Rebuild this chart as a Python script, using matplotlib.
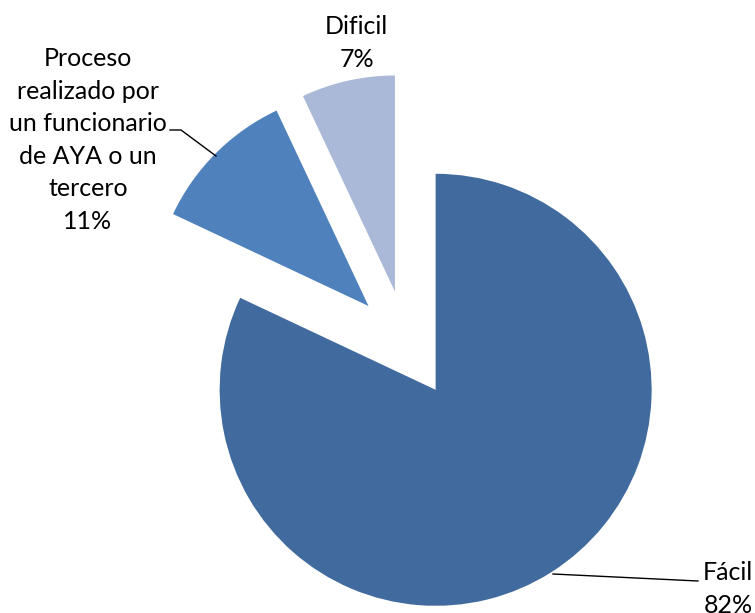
import matplotlib
matplotlib.use("Agg")
import matplotlib.pyplot as plt

# Survey answers: how easy was the process
categories = ["Fácil", "Proceso\nrealizado por\nun funcionario\nde AYA o un\ntercero", "Dificil"]
shares = [82, 11, 7]
colors = ["#416B9E", "#4F81BD", "#AAB9D7"]

W, H = 755, 613
fig = plt.figure(figsize=(W / 100, H / 100), dpi=100)
ax = fig.add_axes([0, 0, 1, 1])

cx, cy, R = 406.7, H - 344.2, 216
gap = 54  # wedge offset, in the same units as the radius
ax.pie(shares, colors=colors, startangle=90, counterclock=False,
       explode=[gap] * len(shares), radius=R, center=(cx, cy),
       wedgeprops=dict(linewidth=0), frame=True)
ax.set_xlim(0, W)
ax.set_ylim(0, H)
ax.set_aspect("equal")
ax.axis("off")

font = dict(family="Lato", fontsize=18, color="black", ha="center", va="center",
            linespacing=1.5)

def label(i):
    return f"{categories[i]}\n{shares[i]}%"

# Fácil
ax.text(728, H - 589, label(0), clip_on=False, **font)
ax.plot([553, 698], [H - 574, H - 581], color="black", lw=1)
# Proceso
ax.text(88, H - 140, label(1), **font)
ax.plot([170, 181, 216], [H - 130, H - 130, H - 156], color="black", lw=1)
# Dificil
ax.text(356.5, H - 43, label(2), **font)

fig.savefig("out.png", dpi=100)
